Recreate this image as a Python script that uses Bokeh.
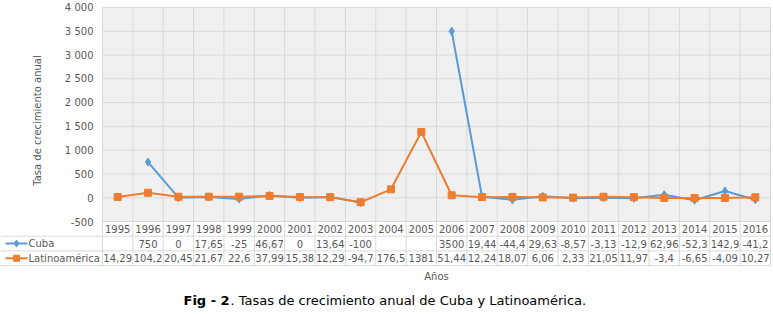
from bokeh.plotting import figure
from bokeh.models import Range1d, ColumnDataSource
from bokeh.embed import file_html
from bokeh.resources import INLINE
from bokeh.core.properties import value
import numpy as np

# ---------------- data ----------------
years = [str(y) for y in range(1995, 2017)]
cuba = [None, 750, 0, 17.65, -25, 46.67, 0, 13.64, -100, None, None, 3500,
        19.44, -44.4, 29.63, -8.57, -3.13, -12.9, 62.96, -52.3, 142.9, -41.2]
latam = [14.29, 104.2, 20.45, 21.67, 22.6, 37.99, 15.38, 12.29, -94.7, 176.5, 1381,
         51.44, 12.24, 18.07, 6.06, 2.33, 21.05, 11.97, -3.4, -6.65, -4.09, 10.27]
series_names = ["Cuba", "Latinoamérica"]
y_ticks = [-500, 0, 500, 1000, 1500, 2000, 2500, 3000, 3500, 4000]
y_tick_labels = ["-500", "0", "500", "1 000", "1 500", "2 000", "2 500", "3 000", "3 500", "4 000"]
y_title = "Tasa de crecimiento anual"
x_title = "Años"
caption_bold = "Fig - 2"
caption_rest = ". Tasas de crecimiento anual de Cuba y Latinoamérica."

# ---------------- layout / style ----------------
FONT = "DejaVu Sans"
TXT = "#595959"
GRID = "#d9d9d9"
BLUE = "#5b9bd5"
ORANGE = "#ed7d31"
W, H = 773, 314
LEFT, RIGHT, TOP = 102, 3, 7
CHART_BOTTOM = 221          # page y of the lowest value line
n = len(years)
cw = (W - LEFT - RIGHT) / n
YMIN, YMAX = y_ticks[0], y_ticks[-1]
ppu = (CHART_BOTTOM - TOP) / (YMAX - YMIN)
x_lo, x_hi = -LEFT / cw, n + RIGHT / cw

def px(xpage):
    """page x pixel -> category units"""
    return (xpage - LEFT) / cw

def fmt(v):
    return "" if v is None else f"{v:g}".replace(".", ",")

xs = np.arange(n) + 0.5
cuba_arr = np.array([np.nan if v is None else v for v in cuba], dtype=float)
latam_arr = np.array(latam, dtype=float)

p = figure(width=W, height=H, x_range=Range1d(x_lo, x_hi),
           y_range=Range1d(YMIN - (H - CHART_BOTTOM) / ppu, YMAX + TOP / ppu),
           output_backend="svg", toolbar_location=None,
           x_axis_location=None, y_axis_location=None, min_border=0)
p.min_border_left = p.min_border_right = p.min_border_top = p.min_border_bottom = 0
p.extra_y_ranges = {"page": Range1d(H, 0)}
p.outline_line_color = None
p.background_fill_color = "white"
p.border_fill_color = "white"
p.grid.visible = False

# plot-area background
p.quad(left=[0], right=[n], bottom=[YMIN], top=[YMAX], fill_color="#f0f0f0", line_color=None)
# horizontal value grid
p.segment(x0=[0] * len(y_ticks), y0=y_ticks, x1=[n] * len(y_ticks), y1=y_ticks,
          line_color=GRID, line_width=1)

# table geometry (page pixel coordinates on the "page" range)
row_top = CHART_BOTTOM
row_h = 14.7
rows_y = [row_top + row_h * (k + 0.5) for k in range(3)]
row_lines = [row_top + row_h * (k + 1) for k in range(3)]
table_bottom = row_lines[-1]

# vertical separators (category boundaries through chart and table)
t_idx = list(range(n + 1))
p.segment(x0=t_idx, y0=[TOP] * (n + 1), x1=t_idx, y1=[table_bottom] * (n + 1),
          line_color=GRID, line_width=1, y_range_name="page")
# horizontal row separators
p.segment(x0=[x_lo] * 3, y0=row_lines, x1=[n] * 3, y1=row_lines,
          line_color=GRID, line_width=1, y_range_name="page")

# y tick labels and title
p.text(x=[px(LEFT - 9)] * len(y_ticks), y=y_ticks, text=y_tick_labels,
       text_font=value(FONT), text_font_size="10px", text_color=TXT,
       text_align="right", text_baseline="middle")
p.text(x=[px(37)], y=[(TOP + CHART_BOTTOM) / 2 + 6], text=[y_title], angle=np.pi / 2,
       text_font=value(FONT), text_font_size="10px", text_color=TXT,
       text_align="center", text_baseline="middle", y_range_name="page")

# data series
src = ColumnDataSource(dict(x=xs, cuba=cuba_arr, latam=latam_arr))
p.line("x", "cuba", source=src, line_color=BLUE, line_width=2)
p.scatter("x", "cuba", source=src, marker="diamond", size=8, fill_color=BLUE, line_color=BLUE)
p.line("x", "latam", source=src, line_color=ORANGE, line_width=2)
p.scatter("x", "latam", source=src, marker="square", size=7, fill_color=ORANGE, line_color=ORANGE)

# table texts
common = dict(text_font=value(FONT), text_font_size="10px", text_color=TXT,
              text_align="center", text_baseline="middle", y_range_name="page")
p.text(x=xs, y=[rows_y[0]] * n, text=years, **common)
p.text(x=xs, y=[rows_y[1]] * n, text=[fmt(v) for v in cuba], **common)
p.text(x=xs, y=[rows_y[2]] * n, text=[fmt(v) for v in latam], **common)

# legend keys in the table's left column
for name, col, mk, sz, yy in [(series_names[0], BLUE, "diamond", 7, rows_y[1]),
                              (series_names[1], ORANGE, "square", 6, rows_y[2])]:
    p.line([px(5), px(27)], [yy, yy], line_color=col, line_width=2, y_range_name="page")
    p.scatter([px(16)], [yy], marker=mk, size=sz, fill_color=col, line_color=col,
              y_range_name="page")
    p.text(x=[px(28)], y=[yy], text=[name], text_font=value(FONT), text_font_size="10px",
           text_color=TXT, text_align="left", text_baseline="middle", y_range_name="page")

# x-axis title
p.text(x=[n / 2], y=[276], text=[x_title], **common)

# caption
p.text(x=[px(183)], y=[300], text=[caption_bold], text_font=value(FONT), text_font_size="13px",
       text_font_style="bold", text_color="black", text_align="left", text_baseline="middle",
       y_range_name="page")
p.text(x=[px(183)], y=[300], x_offset=47, text=[caption_rest], text_font=value(FONT),
       text_font_size="13px", text_color="black", text_align="left", text_baseline="middle",
       y_range_name="page")

open("out.html", "w").write(file_html(p, INLINE))
